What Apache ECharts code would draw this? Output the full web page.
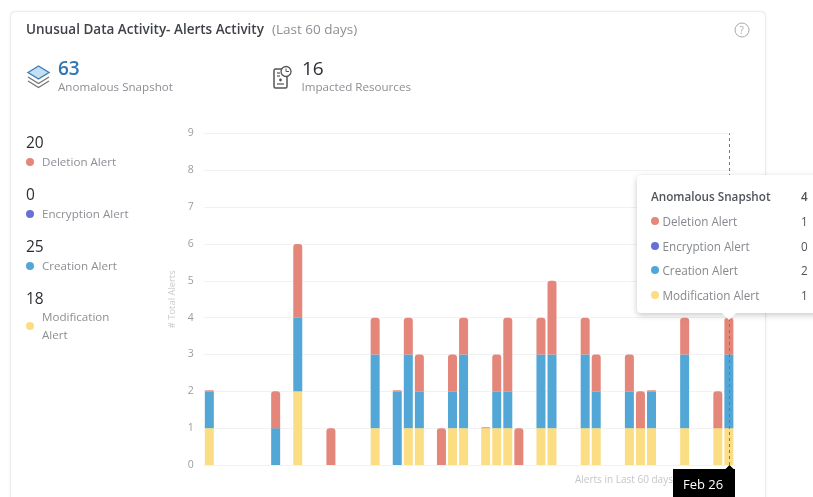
<!DOCTYPE html>
<html>
<head>
<meta charset="utf-8">
<title>Unusual Data Activity</title>
<script src="https://cdn.jsdelivr.net/npm/echarts@6/dist/echarts.min.js"></script>
<style>
	html, body { margin: 0; padding: 0; background: #fff; overflow: hidden; }
	#alerts_chart { width: 813px; height: 497px; }
</style>
</head>
<body>
<div id="alerts_chart"></div>
<script>
var categories = [
	'Jan 10', 'Jan 11', 'Jan 12', 'Jan 13', 'Jan 14', 'Jan 15', 'Jan 16', 'Jan 17', 'Jan 18', 'Jan 19', 'Jan 20', 'Jan 21',
	'Jan 22', 'Jan 23', 'Jan 24', 'Jan 25', 'Jan 26', 'Jan 27', 'Jan 28', 'Jan 29', 'Jan 30', 'Jan 31', 'Feb 1', 'Feb 2',
	'Feb 3', 'Feb 4', 'Feb 5', 'Feb 6', 'Feb 7', 'Feb 8', 'Feb 9', 'Feb 10', 'Feb 11', 'Feb 12', 'Feb 13', 'Feb 14',
	'Feb 15', 'Feb 16', 'Feb 17', 'Feb 18', 'Feb 19', 'Feb 20', 'Feb 21', 'Feb 22', 'Feb 23', 'Feb 24', 'Feb 25', 'Feb 26'
];

// null = no bar that day, 0 = the thin sliver on top of a stack
var modificationAlerts = [
	1, null, null, null, null, null, null, null, 2, null, null, null,
	null, null, null, 1, null, null, 1, 1, null, null, 1, 1,
	null, 1, 1, 1, null, null, 1, 1, null, null, 1, 1,
	null, null, 1, 1, 1, null, null, 1, null, null, 1, 1
];
var creationAlerts = [
	1, null, null, null, null, null, 1, null, 2, null, null, null,
	null, null, null, 2, null, 2, 2, 1, null, null, 1, 2,
	null, null, 1, 1, null, null, 2, 2, null, null, 2, 1,
	null, null, 1, null, 1, null, null, 2, null, null, null, 2
];
var encryptionAlerts = [
	0, 0, 0, 0, 0, 0, 0, 0, 0, 0, 0, 0,
	0, 0, 0, 0, 0, 0, 0, 0, 0, 0, 0, 0,
	0, 0, 0, 0, 0, 0, 0, 0, 0, 0, 0, 0,
	0, 0, 0, 0, 0, 0, 0, 0, 0, 0, 0, 0
];
var deletionAlerts = [
	0, null, null, null, null, null, 1, null, 2, null, null, 1,
	null, null, null, 1, null, 0, 1, 1, null, 1, 1, 1,
	null, 0, 1, 2, 1, null, 1, 2, null, null, 1, 1,
	null, null, 1, 1, 0, null, null, 1, null, null, 1, 1
];

var alertNames = ['Deletion Alert', 'Encryption Alert', 'Creation Alert', 'Modification Alert'];
var alertTotals = [20, 0, 25, 18];
var alertColors = ['#e5867a', '#6570d8', '#52a7d6', '#fbdd84'];

var FONT = '"Open Sans", "Noto Sans", sans-serif';
var selectedIndex = categories.length - 1;

var myAlertsChart = echarts.init(document.getElementById('alerts_chart'));
myAlertsChart.setOption(getAlertsOption());
myAlertsChart.dispatchAction({ type: 'showTip', seriesIndex: 3, dataIndex: selectedIndex });

function label(x, y, text, size, color, weight) {
	return {
		type: 'text',
		z: 5,
		style: {
			x: x,
			y: y,
			text: text,
			fill: color,
			font: (weight || 400) + ' ' + size + 'px ' + FONT,
			verticalAlign: 'middle'
		}
	};
}

function dot(x, y, color) {
	return { type: 'circle', z: 5, shape: { cx: x, cy: y, r: 4 }, style: { fill: color } };
}

function getGraphics() {
	var items = [
		{
			type: 'rect',
			z: -1,
			shape: { x: 10.5, y: 11.5, width: 755, height: 520, r: 4 },
			style: { fill: '#fff', stroke: '#ececec', lineWidth: 1, shadowBlur: 3, shadowColor: 'rgba(0,0,0,0.05)' }
		},
		label(26, 30.5, 'Unusual Data Activity- Alerts Activity', 13.5, '#3f4349', 600),
		label(272, 30.5, '(Last 60 days)', 13.5, '#8c8f94'),
		label(58, 70, '63', 19, '#2f78b5', 600),
		label(58, 88, 'Anomalous Snapshot', 11.6, '#8c8f94'),
		label(302, 70, '16', 19, '#2b2e33', 500),
		label(301.5, 88, 'Impacted Resources', 11.6, '#8c8f94'),
		label(575, 480.5, 'Alerts in Last 60 days', 10, '#c4c6c9'),

		// help icon
		{ type: 'circle', z: 5, shape: { cx: 742, cy: 30, r: 7 }, style: { fill: 'none', stroke: '#aaa', lineWidth: 1 } },
		label(739.5, 31, '?', 10, '#aaa'),

		// layers icon
		{ type: 'polyline', z: 5, shape: { points: [[28, 81], [38.5, 87.5], [49, 81]] }, style: { fill: 'none', stroke: '#777', lineWidth: 1.4 } },
		{ type: 'polyline', z: 5, shape: { points: [[28, 77], [38.5, 83.5], [49, 77]] }, style: { fill: 'none', stroke: '#777', lineWidth: 1.4 } },
		{ type: 'polygon', z: 5, shape: { points: [[28, 72.5], [38.5, 66], [49, 72.5], [38.5, 79]] }, style: { fill: '#c4def2', stroke: '#3d7fb8', lineWidth: 1.4 } },

		// resources icon
		{ type: 'rect', z: 5, shape: { x: 274, y: 69, width: 13, height: 19, r: 1.5 }, style: { fill: '#fff', stroke: '#555', lineWidth: 1.5 } },
		{ type: 'line', z: 5, shape: { x1: 277, y1: 73, x2: 280, y2: 73 }, style: { stroke: '#555', lineWidth: 1.2 } },
		{ type: 'line', z: 5, shape: { x1: 277, y1: 76, x2: 280, y2: 76 }, style: { stroke: '#555', lineWidth: 1.2 } },
		{ type: 'line', z: 5, shape: { x1: 277, y1: 84, x2: 284, y2: 84 }, style: { stroke: '#555', lineWidth: 1.2 } },
		{ type: 'circle', z: 5, shape: { cx: 280.5, cy: 80, r: 1.4 }, style: { fill: '#555' } },
		{ type: 'circle', z: 6, shape: { cx: 286, cy: 71.5, r: 5 }, style: { fill: '#fff', stroke: '#555', lineWidth: 1.3 } },
		{ type: 'polyline', z: 6, shape: { points: [[286, 68.5], [286, 71.5], [289, 71.5]] }, style: { fill: 'none', stroke: '#555', lineWidth: 1 } },

		// date flag under the hovered bar
		{ type: 'rect', z: 20, shape: { x: 673, y: 469, width: 62, height: 28 }, style: { fill: '#000' } },
		{ type: 'polygon', z: 20, shape: { points: [[725, 469.5], [729.5, 465], [734, 469.5]] }, style: { fill: '#000' } }
	];
	var flag = label(683, 485, categories[selectedIndex], 13, '#fff');
	flag.z = 21;
	items.push(flag);

	// left hand legend with totals
	var rows = [144, 196, 248, 300];
	var labelYs = [162, 214, 266];
	for (var i = 0; i < alertNames.length; i++) {
		items.push(label(26, rows[i], String(alertTotals[i]), 15.5, '#2b2e33', 500));
		if (i < 3) {
			items.push(dot(30, labelYs[i], alertColors[i]));
			items.push(label(42, labelYs[i] + 0.5, alertNames[i], 11.6, '#8c8f94'));
		}
	}
	items.push(dot(30, 326, alertColors[3]));
	items.push(label(42, 317.5, 'Modification', 11.6, '#8c8f94'));
	items.push(label(42, 335.5, 'Alert', 11.6, '#8c8f94'));
	return items;
}

function tipRow(name, value, color, bold) {
	var mark = color ? '<span style="position:absolute;left:14px;top:8px;width:8px;height:8px;border-radius:50%;background:' + color + '"></span>' : '';
	return '<div style="position:relative;height:24.8px;line-height:24.8px;font-size:11.7px;white-space:nowrap;' +
		'color:' + (bold ? '#50545a' : '#85888d') + ';font-weight:' + (bold ? 600 : 400) + '">' + mark +
		'<span style="position:absolute;left:' + (color ? 25.5 : 14) + 'px">' + name + '</span>' +
		'<span style="position:absolute;left:164px;color:#50545a">' + value + '</span></div>';
}

function getTooltipHtml() {
	var i = selectedIndex;
	var values = [deletionAlerts[i], encryptionAlerts[i], creationAlerts[i], modificationAlerts[i]];
	var total = 0;
	var rows = '';
	for (var k = 0; k < values.length; k++) {
		total += values[k] || 0;
		rows += tipRow(alertNames[k], values[k] || 0, alertColors[k], false);
	}
	return '<div style="position:relative;width:190px;height:138px;padding-top:9px;box-sizing:border-box;font-family:' + "'Open Sans',sans-serif" + '">' +
		tipRow('Anomalous Snapshot', total, null, true) + rows +
		'<div style="position:absolute;left:87px;bottom:-5px;width:10px;height:10px;background:#fff;transform:rotate(45deg)"></div></div>';
}

function getAlertsOption() {
	var base = {
		type: 'bar',
		stack: 'alerts',
		barWidth: 9,
		emphasis: { disabled: true }
	};
	return {
		backgroundColor: '#fff',
		animation: false,
		graphic: getGraphics(),
		grid: { left: 203.8, right: 78.6, top: 133.5, bottom: 32 },
		tooltip: {
			trigger: 'axis',
			alwaysShowContent: true,
			transitionDuration: 0,
			padding: 0,
			borderWidth: 0,
			backgroundColor: '#fff',
			extraCssText: 'box-shadow:0 2px 6px rgba(0,0,0,0.22);border-radius:4px;',
			position: [637, 175],
			axisPointer: {
				type: 'line',
				z: 10,
				lineStyle: { color: '#777', type: [3, 3], width: 1 }
			},
			formatter: getTooltipHtml
		},
		xAxis: {
			type: 'category',
			data: categories,
			axisLine: { lineStyle: { color: '#f2f2f2' } },
			axisTick: { show: false },
			axisLabel: { show: false }
		},
		yAxis: {
			type: 'value',
			min: 0,
			max: 9,
			interval: 1,
			name: '# Total Alerts',
			nameLocation: 'middle',
			nameGap: 25,
			nameTextStyle: { color: '#c9cbce', fontSize: 9.4, fontFamily: FONT },
			axisLine: { show: false },
			axisTick: { show: false },
			axisLabel: { color: '#9a9da1', fontSize: 10.5, fontFamily: FONT, margin: 10, padding: [2, 0, 0, 0] },
			splitLine: { lineStyle: { color: '#f2f2f2' } }
		},
		series: [
			Object.assign({}, base, { name: alertNames[3], data: modificationAlerts, itemStyle: { color: alertColors[3] } }),
			Object.assign({}, base, { name: alertNames[2], data: creationAlerts, itemStyle: { color: alertColors[2] } }),
			Object.assign({}, base, { name: alertNames[1], data: encryptionAlerts, itemStyle: { color: alertColors[1] } }),
			Object.assign({}, base, {
				name: alertNames[0],
				data: deletionAlerts,
				barMinHeight: 1,
				itemStyle: { color: alertColors[0], borderRadius: [3, 3, 0, 0] }
			})
		]
	};
}
</script>
</body>
</html>
